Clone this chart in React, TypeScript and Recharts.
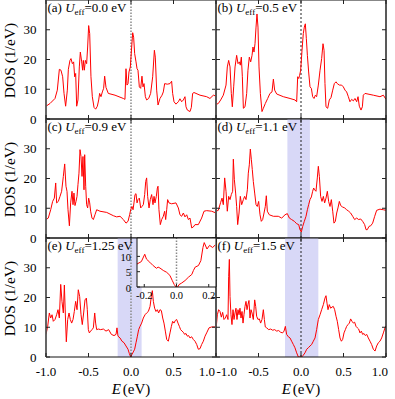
import { LineChart, Line, XAxis, YAxis, ReferenceLine, ReferenceArea } from 'recharts'

const FONT = "'Liberation Serif', 'Times New Roman', serif"

const xTicks = [-1, -0.5, 0, 0.5, 1]
const yTicks = [0, 10, 20, 30]
const insetXTicks = [-0.2, 0, 0.2]
const insetYTicks = [0, 5, 10]

const panelTags = ['(a)', '(b)', '(c)', '(d)', '(e)', '(f)']
const ueffValues = ['0.0', '0.5', '0.9', '1.1', '1.25', '1.5']

// shaded gap windows (eV), null = none
const gapBands: ([number, number] | null)[] = [null, null, null, [-0.16, 0.105], [-0.157, 0.125], [-0.188, 0.204]]

// [E, DOS]
const dosA: [number, number][] = [
  [-1.0, 4.3], [-0.953, 5.2], [-0.894, 6.9], [-0.867, 9.7], [-0.843, 16.7], [-0.824, 16.4], [-0.804, 14.2],
  [-0.788, 8.6], [-0.769, 4.3], [-0.749, 9.7], [-0.737, 16.7], [-0.718, 19.7], [-0.706, 20.3], [-0.69, 18.6],
  [-0.675, 19.2], [-0.663, 14.2], [-0.651, 15.3], [-0.639, 4.3], [-0.624, 6.4], [-0.608, 17.5], [-0.596, 22.5],
  [-0.58, 19.2], [-0.569, 16.4], [-0.561, 19.7], [-0.549, 16.4], [-0.537, 19.7], [-0.522, 18.6], [-0.51, 24.2],
  [-0.498, 31.4], [-0.486, 28.7], [-0.471, 14.2], [-0.455, 7.5], [-0.435, 3.9], [-0.416, 3.3], [-0.396, 4.3],
  [-0.38, 6.4], [-0.369, 8.6], [-0.353, 7.5], [-0.337, 9.1], [-0.322, 10.3], [-0.31, 14.4], [-0.294, 10.6],
  [-0.267, 8.6], [-0.188, 8.0], [-0.09, 6.9], [-0.071, 6.6], [-0.059, 16.9], [-0.047, 11.4], [-0.035, 11.9],
  [-0.024, 15.8], [-0.008, 17.5], [0.008, 24.2], [0.02, 29.0], [0.031, 27.5], [0.043, 22.0], [0.059, 19.2],
  [0.071, 16.9], [0.082, 16.4], [0.098, 10.8], [0.114, 10.3], [0.129, 14.4], [0.141, 10.8], [0.153, 11.9],
  [0.169, 7.5], [0.184, 6.4], [0.208, 6.9], [0.231, 8.6], [0.255, 14.2], [0.275, 23.1], [0.286, 20.8],
  [0.302, 9.7], [0.318, 4.7], [0.341, 6.9], [0.365, 8.0], [0.38, 9.1], [0.396, 11.9], [0.427, 11.7],
  [0.459, 11.9], [0.478, 12.7], [0.49, 8.6], [0.506, 5.8], [0.529, 5.0], [0.557, 5.8], [0.576, 6.8],
  [0.596, 5.8], [0.616, 6.4], [0.635, 7.5], [0.647, 4.1], [0.663, 3.0], [0.694, 2.5], [0.71, 3.9],
  [0.725, 8.6], [0.741, 8.9], [0.812, 8.0], [0.89, 7.5], [0.929, 6.9], [0.969, 8.0], [1.0, 7.7],
]

const dosB: [number, number][] = [
  [-1.0, 4.9], [-0.973, 5.2], [-0.945, 6.4], [-0.914, 8.0], [-0.882, 11.4], [-0.867, 17.5], [-0.851, 19.7],
  [-0.835, 17.5], [-0.82, 8.6], [-0.808, 4.1], [-0.792, 10.8], [-0.776, 17.5], [-0.757, 21.4], [-0.741, 18.6],
  [-0.725, 19.2], [-0.714, 18.1], [-0.702, 20.8], [-0.69, 14.2], [-0.678, 3.6], [-0.659, 4.1], [-0.639, 8.6],
  [-0.624, 16.4], [-0.608, 20.8], [-0.592, 19.2], [-0.576, 21.4], [-0.565, 24.2], [-0.553, 22.5], [-0.541, 25.3],
  [-0.529, 30.9], [-0.518, 35.3], [-0.506, 30.9], [-0.494, 17.5], [-0.478, 8.6], [-0.459, 2.5], [-0.443, 3.6],
  [-0.42, 5.2], [-0.392, 6.9], [-0.365, 8.6], [-0.341, 9.1], [-0.325, 13.4], [-0.31, 9.7], [-0.286, 8.4],
  [-0.208, 7.5], [-0.129, 6.9], [-0.071, 6.4], [-0.051, 5.8], [-0.039, 14.2], [-0.027, 13.6], [-0.016, 14.7],
  [-0.004, 16.4], [0.012, 23.1], [0.027, 28.7], [0.039, 30.9], [0.051, 32.0], [0.063, 27.0], [0.075, 21.4],
  [0.09, 15.8], [0.106, 10.8], [0.122, 10.3], [0.137, 7.5], [0.153, 6.9], [0.169, 8.0], [0.184, 7.5],
  [0.204, 11.4], [0.224, 16.4], [0.243, 20.3], [0.259, 25.3], [0.271, 23.1], [0.282, 11.9], [0.294, 4.1],
  [0.314, 3.6], [0.333, 6.4], [0.353, 7.2], [0.373, 9.7], [0.392, 11.9], [0.412, 12.5], [0.427, 11.9],
  [0.451, 11.4], [0.478, 11.4], [0.498, 10.8], [0.518, 9.7], [0.537, 9.1], [0.557, 7.5], [0.576, 5.8],
  [0.596, 6.6], [0.616, 6.1], [0.635, 6.9], [0.655, 5.8], [0.671, 7.5], [0.686, 4.3], [0.706, 3.0],
  [0.722, 4.1], [0.733, 8.0], [0.753, 8.6], [0.851, 8.0], [0.929, 7.5], [0.969, 8.0], [1.0, 6.6],
]

const dosC: [number, number][] = [
  [-1.0, 6.2], [-0.973, 6.7], [-0.945, 9.5], [-0.922, 12.3], [-0.902, 13.4], [-0.886, 18.5], [-0.875, 11.8],
  [-0.855, 12.3], [-0.835, 14.0], [-0.816, 15.7], [-0.796, 20.7], [-0.78, 24.9], [-0.765, 17.4], [-0.753, 15.7],
  [-0.741, 9.5], [-0.725, 4.1], [-0.71, 11.8], [-0.694, 15.7], [-0.682, 11.2], [-0.671, 15.1], [-0.659, 10.9],
  [-0.647, 12.3], [-0.635, 14.0], [-0.624, 17.9], [-0.612, 21.8], [-0.6, 29.7], [-0.588, 27.4], [-0.576, 20.7],
  [-0.565, 27.4], [-0.553, 16.2], [-0.545, 28.0], [-0.533, 17.4], [-0.522, 11.2], [-0.51, 10.1], [-0.498, 13.4],
  [-0.486, 11.8], [-0.475, 9.0], [-0.459, 6.7], [-0.443, 6.2], [-0.424, 7.8], [-0.404, 9.5], [-0.365, 9.0],
  [-0.286, 8.6], [-0.208, 7.5], [-0.169, 7.1], [-0.129, 7.3], [-0.09, 6.2], [-0.059, 5.0], [-0.035, 5.6],
  [-0.016, 7.8], [-0.004, 9.5], [0.012, 10.6], [0.024, 9.5], [0.035, 11.8], [0.047, 14.6], [0.059, 14.9],
  [0.071, 11.8], [0.082, 12.9], [0.098, 13.4], [0.114, 10.1], [0.129, 10.6], [0.145, 11.2], [0.161, 14.6],
  [0.173, 19.0], [0.184, 20.2], [0.196, 14.0], [0.212, 10.1], [0.227, 12.9], [0.243, 14.6], [0.259, 11.2],
  [0.271, 14.0], [0.282, 11.8], [0.298, 14.0], [0.31, 16.8], [0.318, 17.4], [0.329, 9.5], [0.345, 4.5],
  [0.361, 6.2], [0.38, 7.3], [0.396, 9.0], [0.408, 6.2], [0.42, 9.5], [0.431, 12.9], [0.447, 11.8],
  [0.478, 11.5], [0.529, 11.8], [0.557, 10.1], [0.576, 7.8], [0.596, 7.3], [0.616, 8.4], [0.635, 7.1],
  [0.655, 7.8], [0.675, 6.2], [0.694, 6.7], [0.714, 3.4], [0.733, 3.7], [0.753, 4.5], [0.792, 4.5],
  [0.831, 6.7], [0.859, 9.0], [0.89, 9.2], [0.949, 9.0], [1.0, 8.4],
]

const dosD: [number, number][] = [
  [-1.0, 9.0], [-0.973, 9.3], [-0.945, 12.0], [-0.929, 13.4], [-0.914, 11.2], [-0.898, 20.2], [-0.882, 15.7],
  [-0.867, 9.0], [-0.851, 14.0], [-0.835, 12.9], [-0.82, 14.6], [-0.804, 15.7], [-0.796, 26.5], [-0.784, 19.6],
  [-0.769, 15.1], [-0.757, 10.6], [-0.745, 4.5], [-0.729, 8.4], [-0.714, 14.0], [-0.698, 11.2], [-0.678, 12.9],
  [-0.663, 14.0], [-0.647, 12.9], [-0.631, 16.2], [-0.62, 21.8], [-0.608, 24.6], [-0.596, 29.9], [-0.584, 26.3],
  [-0.573, 23.0], [-0.561, 19.0], [-0.545, 15.1], [-0.529, 11.2], [-0.514, 10.6], [-0.498, 12.3], [-0.482, 7.8],
  [-0.467, 5.6], [-0.451, 6.2], [-0.435, 8.4], [-0.42, 10.6], [-0.408, 14.2], [-0.396, 9.0], [-0.373, 7.8],
  [-0.325, 7.3], [-0.267, 7.3], [-0.227, 6.7], [-0.188, 7.8], [-0.161, 8.2], [-0.137, 6.7], [-0.11, 6.2],
  [-0.078, 5.6], [-0.051, 4.8], [-0.027, 4.5], [-0.012, 2.8], [0.004, 2.0], [0.02, 3.9], [0.039, 5.6],
  [0.059, 7.3], [0.075, 9.5], [0.09, 11.2], [0.106, 12.9], [0.122, 13.8], [0.137, 15.7], [0.149, 16.8],
  [0.161, 16.2], [0.176, 15.7], [0.192, 20.2], [0.204, 24.1], [0.216, 20.7], [0.231, 14.0], [0.247, 12.3],
  [0.263, 14.0], [0.278, 11.8], [0.294, 13.4], [0.31, 15.7], [0.325, 12.3], [0.341, 10.6], [0.357, 12.9],
  [0.373, 9.0], [0.388, 5.0], [0.404, 5.6], [0.42, 8.4], [0.435, 10.1], [0.451, 12.3], [0.467, 10.9],
  [0.49, 10.4], [0.514, 10.1], [0.537, 9.5], [0.561, 9.0], [0.584, 8.4], [0.608, 7.3], [0.631, 6.2],
  [0.655, 6.7], [0.678, 6.2], [0.702, 6.4], [0.725, 5.6], [0.749, 4.5], [0.765, 2.8], [0.78, 2.8],
  [0.8, 3.9], [0.82, 4.1], [0.843, 5.0], [0.867, 7.3], [0.89, 9.3], [0.929, 9.7], [0.969, 9.5], [1.0, 9.3],
]

const dosE: [number, number][] = [
  [-1.0, 7.6], [-0.98, 10.3], [-0.961, 14.8], [-0.945, 13.1], [-0.929, 14.2], [-0.914, 12.0], [-0.894, 12.6],
  [-0.875, 14.2], [-0.859, 15.9], [-0.843, 13.1], [-0.827, 24.4], [-0.812, 18.7], [-0.796, 14.8], [-0.784, 24.2],
  [-0.773, 14.8], [-0.761, 5.1], [-0.745, 12.6], [-0.729, 14.8], [-0.714, 12.6], [-0.698, 11.4], [-0.682, 12.6],
  [-0.667, 15.3], [-0.651, 18.7], [-0.635, 15.9], [-0.62, 22.6], [-0.604, 20.3], [-0.588, 14.2], [-0.573, 10.9],
  [-0.557, 14.8], [-0.541, 19.2], [-0.525, 19.8], [-0.514, 15.9], [-0.502, 9.2], [-0.49, 8.1], [-0.475, 8.7],
  [-0.459, 9.2], [-0.443, 9.8], [-0.427, 14.8], [-0.416, 11.4], [-0.404, 9.2], [-0.384, 9.4], [-0.357, 9.2],
  [-0.325, 9.4], [-0.294, 8.7], [-0.263, 9.2], [-0.231, 7.6], [-0.2, 7.2], [-0.176, 7.6], [-0.165, 9.8],
  [-0.153, 7.0], [-0.129, 6.4], [-0.106, 5.3], [-0.082, 4.8], [-0.059, 3.7], [-0.035, 2.6], [-0.02, 1.2],
  [-0.004, 0], [0.012, 0.9], [0.027, 1.7], [0.043, 2.6], [0.059, 4.8], [0.075, 7.0], [0.09, 9.2],
  [0.106, 10.3], [0.125, 11.4], [0.145, 13.1], [0.165, 14.2], [0.184, 14.8], [0.204, 15.3], [0.224, 17.0],
  [0.239, 20.3], [0.251, 22.3], [0.263, 18.7], [0.278, 16.4], [0.294, 15.3], [0.31, 15.9], [0.325, 14.8],
  [0.341, 15.9], [0.357, 15.6], [0.373, 13.1], [0.388, 11.4], [0.404, 8.7], [0.42, 5.9], [0.439, 5.3],
  [0.459, 8.1], [0.475, 10.3], [0.49, 12.0], [0.506, 11.4], [0.522, 12.3], [0.537, 12.6], [0.553, 11.4],
  [0.569, 10.3], [0.584, 9.2], [0.6, 8.7], [0.616, 8.3], [0.631, 7.6], [0.647, 7.9], [0.663, 7.0],
  [0.678, 7.2], [0.694, 6.4], [0.714, 6.8], [0.733, 5.9], [0.753, 5.3], [0.773, 4.2], [0.792, 2.6],
  [0.812, 2.8], [0.831, 4.2], [0.851, 5.3], [0.871, 7.0], [0.89, 8.1], [0.918, 9.8], [0.949, 10.1], [1.0, 10.1],
]

const dosF: [number, number][] = [
  [-1.0, 9.2], [-0.984, 14.2], [-0.969, 15.9], [-0.953, 15.3], [-0.937, 13.4], [-0.922, 15.0], [-0.906, 12.6],
  [-0.89, 13.1], [-0.875, 14.2], [-0.859, 12.6], [-0.851, 27.0], [-0.843, 32.8], [-0.835, 20.3], [-0.824, 14.2],
  [-0.812, 10.9], [-0.8, 15.9], [-0.788, 12.6], [-0.776, 14.8], [-0.765, 16.4], [-0.753, 12.6], [-0.741, 15.9],
  [-0.729, 14.2], [-0.718, 16.4], [-0.706, 13.1], [-0.694, 15.3], [-0.682, 11.4], [-0.671, 14.2], [-0.659, 17.0],
  [-0.647, 18.7], [-0.635, 15.9], [-0.624, 17.6], [-0.612, 19.0], [-0.6, 13.1], [-0.588, 15.9], [-0.576, 14.8],
  [-0.561, 12.6], [-0.545, 19.2], [-0.533, 17.0], [-0.522, 13.7], [-0.506, 12.6], [-0.49, 12.8], [-0.475, 11.4],
  [-0.459, 12.6], [-0.443, 15.9], [-0.431, 12.6], [-0.42, 10.1], [-0.404, 9.8], [-0.38, 9.2], [-0.357, 9.4],
  [-0.333, 9.0], [-0.31, 9.2], [-0.286, 8.7], [-0.263, 8.9], [-0.239, 8.3], [-0.216, 8.1], [-0.2, 8.7],
  [-0.184, 10.3], [-0.169, 7.6], [-0.149, 6.8], [-0.129, 6.4], [-0.11, 5.3], [-0.09, 4.2], [-0.071, 3.1],
  [-0.051, 1.4], [-0.031, 0], [-0.012, 0], [0.008, 0], [0.027, 0.6], [0.047, 1.4], [0.067, 2.6],
  [0.086, 3.1], [0.106, 3.7], [0.125, 4.2], [0.145, 5.3], [0.165, 6.4], [0.184, 9.2], [0.204, 12.6],
  [0.224, 14.2], [0.243, 15.9], [0.263, 17.6], [0.282, 19.8], [0.294, 20.6], [0.306, 18.1], [0.318, 15.9],
  [0.333, 17.6], [0.349, 16.4], [0.365, 16.8], [0.38, 17.0], [0.396, 15.9], [0.412, 13.7], [0.427, 12.0],
  [0.443, 9.2], [0.459, 6.4], [0.475, 5.3], [0.49, 5.9], [0.506, 8.1], [0.522, 9.2], [0.537, 10.3],
  [0.553, 10.9], [0.569, 11.4], [0.584, 12.8], [0.6, 12.0], [0.616, 11.4], [0.631, 11.7], [0.647, 10.3],
  [0.663, 9.8], [0.678, 9.4], [0.694, 8.1], [0.71, 8.7], [0.725, 7.6], [0.741, 7.9], [0.757, 7.2],
  [0.773, 7.6], [0.792, 6.4], [0.812, 5.3], [0.831, 4.2], [0.851, 2.6], [0.871, 2.0], [0.89, 3.7],
  [0.91, 4.8], [0.929, 5.3], [0.949, 6.4], [0.969, 8.1], [0.988, 9.8], [1.0, 10.5],
]

// inset of (e): zoom around the Fermi level
const insetE: [number, number][] = [
  [-0.245, 7.5], [-0.218, 8.3], [-0.197, 10.7], [-0.186, 9.1], [-0.166, 8.1], [-0.145, 7.0], [-0.124, 6.1],
  [-0.114, 6.5], [-0.103, 6.2], [-0.082, 5.4], [-0.061, 4.8], [-0.041, 3.8], [-0.026, 2.1], [-0.014, 0.8],
  [-0.003, 0], [0.007, 0], [0.016, 0.8], [0.032, 1.3], [0.053, 2.1], [0.074, 3.2], [0.095, 4.1],
  [0.105, 5.4], [0.116, 6.5], [0.136, 7.0], [0.151, 8.6], [0.164, 12.9], [0.172, 14.5], [0.189, 12.4],
  [0.205, 13.6], [0.224, 12.9], [0.24, 13.7],
]

const panelData = [dosA, dosB, dosC, dosD, dosE, dosF]

// layout
const COL_X = [46, 216]
const ROW_Y = [0, 119, 238]
const PW = 170
const PH = 119
const AXW = 46
const MT = 5
const MR = 5
const XH = 40

const frameH = '#111'
const frameV = '#555'

function Panel({ idx }: { idx: number }) {
  const col = idx % 2
  const row = Math.floor(idx / 2)
  const data = panelData[idx].map(([e, d]) => ({ e, d }))
  const band = gapBands[idx]
  const pl = AXW
  const pr = AXW + PW
  const pt = MT
  const pb = MT + PH
  const showX = row === 2
  const showY = col === 0

  const xTick = (p: any) => {
    const v = p.payload.value
    let anchor = 'middle'
    let tx = p.x
    if (col === 0 && v === 1) { anchor = 'end'; tx = p.x - 1 }
    if (col === 1 && v === -1) { anchor = 'start'; tx = p.x + 0.5 }
    if (col === 1 && v === 1) { anchor = 'end'; tx = p.x + 2 }
    return (
      <g>
        <line x1={p.x} x2={p.x} y1={pb} y2={pb - 4} stroke="#222" />
        <line x1={p.x} x2={p.x} y1={pt} y2={pt + 4} stroke="#222" />
        {showX && (
          <text x={tx} y={pb + 19} textAnchor={anchor} fontSize={13} fontFamily={FONT} fill="#000">
            {v.toFixed(1)}
          </text>
        )}
      </g>
    )
  }

  const yTick = (p: any) => (
    <g>
      <line x1={pl} x2={pl + 4} y1={p.y} y2={p.y} stroke="#222" />
      <line x1={pr} x2={pr - 4} y1={p.y} y2={p.y} stroke="#222" />
      {showY && (
        <text x={pl - 9.5} y={p.y + 4.5} textAnchor="end" fontSize={13} fontFamily={FONT} fill="#000">
          {p.payload.value}
        </text>
      )}
    </g>
  )

  return (
    <div style={{ position: 'absolute', left: COL_X[col] - AXW, top: ROW_Y[row] - MT }}>
      <LineChart
        width={AXW + PW + MR}
        height={MT + PH + XH}
        data={data}
        margin={{ top: MT, right: MR, left: 0, bottom: 0 }}
      >
        <XAxis
          type="number"
          dataKey="e"
          domain={[-1, 1]}
          ticks={xTicks}
          interval={0}
          height={XH}
          allowDataOverflow
          axisLine={{ stroke: frameH, strokeWidth: 1 }}
          tickLine={false}
          tick={xTick}
        />
        <YAxis
          type="number"
          domain={[0, 40]}
          ticks={yTicks}
          interval={0}
          width={AXW}
          allowDataOverflow
          axisLine={{ stroke: frameV, strokeWidth: 1.8 }}
          tickLine={false}
          tick={yTick}
        />
        {band && (
          <ReferenceArea x1={band[0]} x2={band[1]} y1={0} y2={40} fill="#d8d8f7" fillOpacity={1} stroke="none" />
        )}
        <ReferenceLine
          x={0}
          stroke={col === 0 ? '#8a8a8a' : '#222'}
          strokeWidth={col === 0 ? 1.5 : 1}
          strokeDasharray={col === 0 ? '1.5 1.5' : '2 2'}
        />
        <Line
          type="linear"
          dataKey="d"
          stroke="#ff0000"
          strokeWidth={1}
          dot={false}
          isAnimationActive={false}
        />
        <ReferenceLine y={40} stroke={frameH} strokeWidth={1} />
        <ReferenceLine x={1} stroke={col === 0 ? frameV : '#222'} strokeWidth={col === 0 ? 1.8 : 1.5} />
      </LineChart>
    </div>
  )
}

// inset geometry (absolute)
const IN_L = 137
const IN_T = 238
const IN_W = 79
const IN_H = 49
const IN_AX = 20
const IN_XH = 16

function Inset() {
  const data = insetE.map(([e, d]) => ({ e, d }))
  const pl = IN_AX
  const pt = 1
  const pb = 1 + IN_H
  const xTick = (p: any) => (
    <g>
      <line x1={p.x} x2={p.x} y1={pb} y2={pb - 3} stroke="#222" />
      <text x={p.x} y={pb + 12} textAnchor="middle" fontSize={10.5} fontFamily={FONT} fill="#000">
        {p.payload.value.toFixed(1)}
      </text>
    </g>
  )
  const yTick = (p: any) => (
    <g>
      <line x1={pl} x2={pl + 3} y1={p.y} y2={p.y} stroke="#222" />
      <text x={pl - 6} y={p.y + 4.5} textAnchor="end" fontSize={10.5} fontFamily={FONT} fill="#000">
        {p.payload.value}
      </text>
    </g>
  )
  return (
    <>
      <div style={{ position: 'absolute', left: IN_L, top: IN_T, width: IN_W, height: IN_H, background: '#fff' }} />
      <div style={{ position: 'absolute', left: IN_L - IN_AX, top: IN_T - pt }}>
        <LineChart
          width={IN_AX + IN_W + 2}
          height={pt + IN_H + IN_XH}
          data={data}
          margin={{ top: pt, right: 2, left: 0, bottom: 0 }}
        >
          <XAxis
            type="number"
            dataKey="e"
            domain={[-0.245, 0.245]}
            ticks={insetXTicks}
            interval={0}
            height={IN_XH}
            allowDataOverflow
            axisLine={{ stroke: '#111' }}
            tickLine={false}
            tick={xTick}
          />
          <YAxis
            type="number"
            domain={[0, 16]}
            ticks={insetYTicks}
            interval={0}
            width={IN_AX}
            allowDataOverflow
            axisLine={{ stroke: '#111' }}
            tickLine={false}
            tick={yTick}
          />
          <ReferenceLine x={0} stroke="#8a8a8a" strokeWidth={1.5} strokeDasharray="1.5 1.5" />
          <Line type="linear" dataKey="d" stroke="#ff0000" strokeWidth={1} dot={false} isAnimationActive={false} />
          <ReferenceLine y={16} stroke="#111" />
          <ReferenceLine x={0.245} stroke="#111" />
        </LineChart>
      </div>
    </>
  )
}

function Titles() {
  return (
    <svg width={395} height={399} style={{ position: 'absolute', left: 0, top: 0, pointerEvents: 'none' }}>
      {panelTags.map((tag, i) => {
        const col = i % 2
        const row = Math.floor(i / 2)
        return (
          <text key={tag} x={COL_X[col] + 1.5} y={ROW_Y[row] + 12} fontSize={13} fontFamily={FONT} fill="#000">
            {tag}{' '}
            <tspan fontStyle="italic">U</tspan>
            <tspan fontSize={9} dy={2.5}>eff</tspan>
            <tspan dy={-2.5}>={ueffValues[i]} eV</tspan>
          </text>
        )
      })}
      {ROW_Y.map((y, r) => (
        <text
          key={'dos' + r}
          transform={`translate(14.5, ${y + PH / 2 + 1}) rotate(-90)`}
          textAnchor="middle"
          fontSize={15.5}
          fontFamily={FONT}
          fill="#000"
        >
          DOS (1/eV)
        </text>
      ))}
      {COL_X.map((x, c) => (
        <text key={'e' + c} x={x + PW / 2} y={394} textAnchor="middle" fontSize={15} fontFamily={FONT} fill="#000">
          <tspan fontStyle="italic">E</tspan>
          <tspan dx={2}>(eV)</tspan>
        </text>
      ))}
    </svg>
  )
}

export default function App() {
  return (
    <div style={{ position: 'absolute', left: 0, top: 0, width: 395, height: 399, background: '#fff', overflow: 'hidden' }}>
      {[0, 1, 2, 3, 4, 5].map((i) => (
        <Panel key={i} idx={i} />
      ))}
      <Inset />
      <Titles />
    </div>
  )
}
